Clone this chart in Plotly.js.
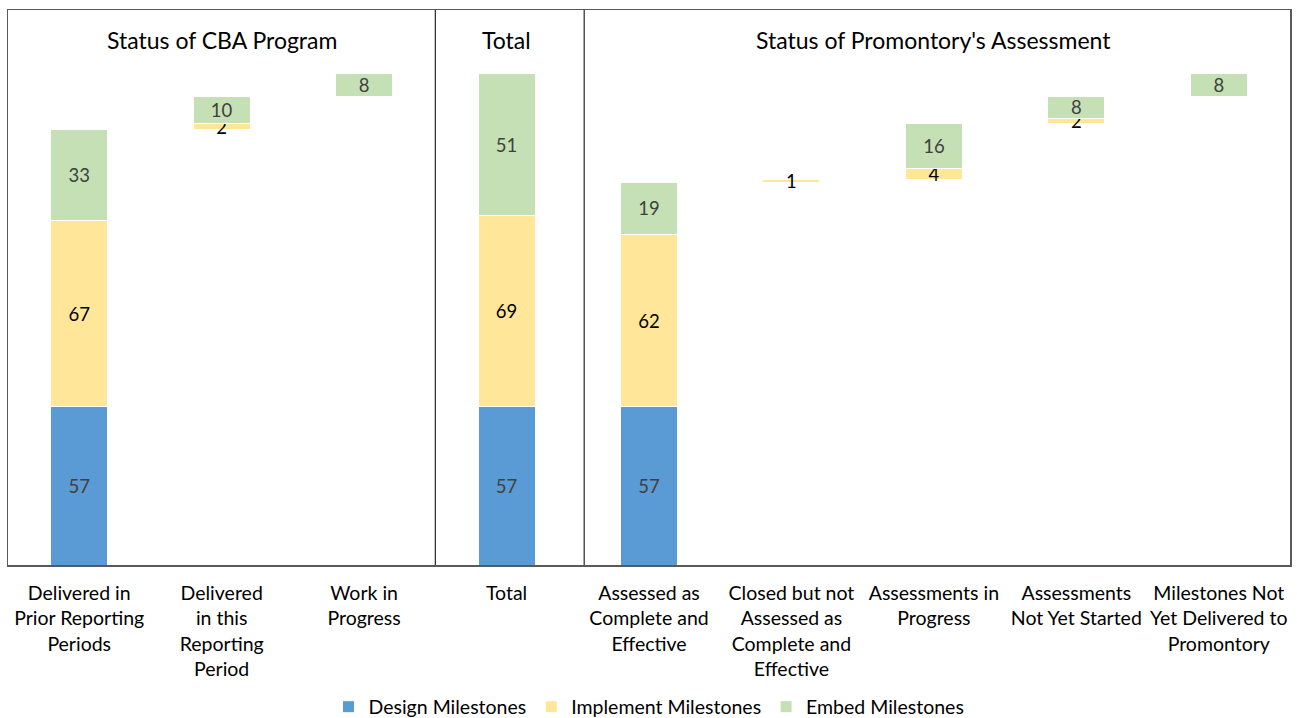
<!DOCTYPE html>
<html>
<head>
<meta charset="utf-8">
<script src="https://cdn.plot.ly/plotly-3.0.1.min.js"></script>
<style>
html,body{margin:0;padding:0;background:#fff;}
#chart{width:1297px;height:718px;}
</style>
</head>
<body>
<div id="chart"></div>
<script>
const categories = [
  "Delivered in<br>Prior Reporting<br>Periods",
  "Delivered<br>in this<br>Reporting<br>Period",
  "Work in<br>Progress",
  "Total",
  "Assessed as<br>Complete and<br>Effective",
  "Closed but not<br>Assessed as<br>Complete and<br>Effective",
  "Assessments in<br>Progress",
  "Assessments<br>Not Yet Started",
  "Milestones Not<br>Yet Delivered to<br>Promontory"
];
// true where a new waterfall stack starts at zero
const stackStart = [true, false, false, true, true, false, false, false, false];
const designValues    = [57, null, null, 57, 57, null, null, null, null];
const implementValues = [67, 2, null, 69, 62, 1, 4, 2, null];
const embedValues     = [33, 10, 8, 51, 19, null, 16, 8, 8];
const seriesNames = ["Design Milestones", "Implement Milestones", "Embed Milestones"];
const sectionTitles = ["Status of CBA Program", "Total", "Status of Promontory's Assessment"];

// invisible offsets for the floating (waterfall) bars
const offsets = [];
let running = 0;
for (let i = 0; i < categories.length; i++) {
  if (stackStart[i]) running = 0;
  offsets.push(running);
  running += (designValues[i] || 0) + (implementValues[i] || 0) + (embedValues[i] || 0);
}

const FONT = "Lato, 'Open Sans', sans-serif";
const txt = v => v.map(x => x == null ? "" : String(x));

const common = {
  type: "bar",
  x: categories,
  textposition: "inside",
  insidetextanchor: "middle",
  constraintext: "none",
  textangle: 0,
  cliponaxis: false,
  hoverinfo: "skip"
};

const traces = [
  Object.assign({}, common, {
    y: offsets, name: "offset", showlegend: false,
    marker: {color: "rgba(0,0,0,0)", line: {width: 0}}, text: null, textposition: "none"
  }),
  Object.assign({}, common, {
    y: designValues, name: seriesNames[0], text: txt(designValues),
    marker: {color: "#5B9BD5", line: {color: "#ffffff", width: 1}},
    textfont: {family: FONT, size: 18.5, color: "#404040"}
  }),
  Object.assign({}, common, {
    y: implementValues, name: seriesNames[1], text: txt(implementValues),
    marker: {color: "#FFE699", line: {color: "#ffffff", width: 1}},
    textfont: {family: FONT, size: 18.5, color: "#000000"}
  }),
  Object.assign({}, common, {
    y: embedValues, name: seriesNames[2], text: txt(embedValues),
    marker: {color: "#C5E0B4", line: {color: "#ffffff", width: 1}},
    textfont: {family: FONT, size: 18.5, color: "#404040"}
  })
];

const layout = {
  width: 1297, height: 718,
  margin: {l: 8, r: 7, t: 10, b: 153, autoexpand: false},
  barmode: "stack",
  bargap: 0.6,
  paper_bgcolor: "#ffffff",
  plot_bgcolor: "#ffffff",
  font: {family: FONT, size: 19.5, color: "#000000"},
  showlegend: true,
  legend: {
    orientation: "h", x: 0.5, xanchor: "center",
    yref: "container", y: 0.0153, yanchor: "middle",
    font: {family: FONT, size: 19.5, color: "#000"}, traceorder: "normal",
    itemwidth: 30, tracegroupgap: 0
  },
  xaxis: {
    type: "category",
    showline: true, mirror: true, linecolor: "#595959", linewidth: 1.5,
    ticks: "", showgrid: false, zeroline: false,
    tickfont: {family: FONT, size: 19.5, color: "#000"},
    ticklabelstandoff: 10,
    fixedrange: true
  },
  yaxis: {
    range: [0, 200],
    showline: true, mirror: true, linecolor: "#595959", linewidth: 1.5,
    showticklabels: false, ticks: "", showgrid: false, zeroline: false,
    fixedrange: true
  },
  shapes: [
    {type: "line", xref: "x", yref: "paper", x0: 2.5, x1: 2.5, y0: 0, y1: 1, line: {color: "#262626", width: 1.2}},
    {type: "line", xref: "x", yref: "paper", x0: 3.545, x1: 3.545, y0: 0, y1: 1, line: {color: "#262626", width: 1.2}}
  ],
  annotations: [
    {xref: "x", yref: "paper", x: 1, y: 0.946, text: sectionTitles[0], showarrow: false, yanchor: "middle", font: {family: FONT, size: 23, color: "#000"}},
    {xref: "x", yref: "paper", x: 3, y: 0.946, text: sectionTitles[1], showarrow: false, yanchor: "middle", font: {family: FONT, size: 23, color: "#000"}},
    {xref: "x", yref: "paper", x: 6, y: 0.946, text: sectionTitles[2], showarrow: false, yanchor: "middle", font: {family: FONT, size: 23, color: "#000"}}
  ]
};

Plotly.newPlot("chart", traces, layout, {displayModeBar: false, staticPlot: true});
</script>
</body>
</html>
